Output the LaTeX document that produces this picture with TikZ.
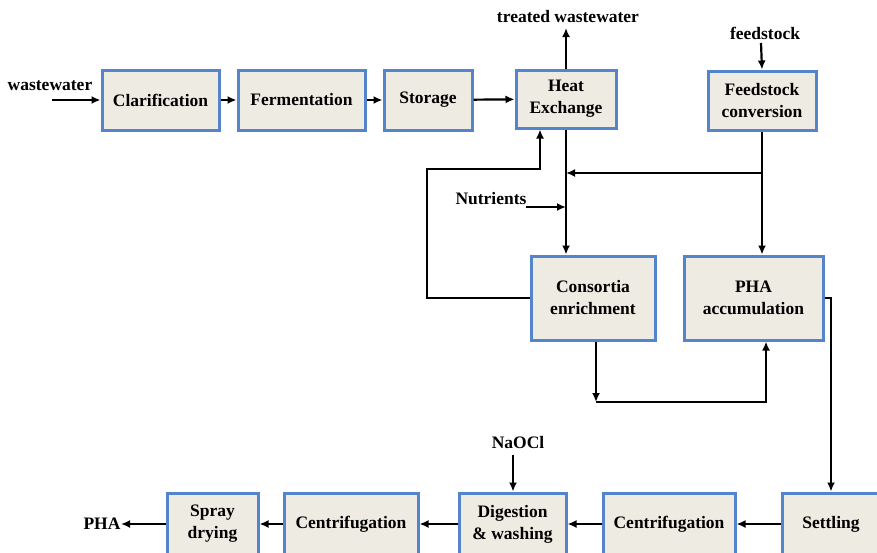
\documentclass[tikz,border=0pt]{standalone}
\usepackage{fontspec}
\setmainfont{Liberation Serif}
\usetikzlibrary{arrows.meta}
\definecolor{boxfill}{RGB}{238,235,226}
\definecolor{boxline}{RGB}{84,132,204}
\begin{document}
\begin{tikzpicture}[x=1pt,y=-1pt,
  font=\fontsize{17.5}{22}\selectfont\bfseries,
  proc/.style={draw=boxline,fill=boxfill,line width=3pt,inner sep=0pt,
    align=center,minimum width=#1},
  lbl/.style={inner sep=0pt},
  flow/.style={line width=2.2pt,-{Latex[length=9pt,width=8pt]}}]
\useasboundingbox (0,0) rectangle (877,552);
\clip (0,0) rectangle (877,552);

% top row
\node[proc=117,minimum height=60] (clar) at (160.5,100) {Clarification};
\node[proc=127,minimum height=60] (ferm) at (301.5,100) {Fermentation};
\node[proc=88,minimum height=60] (stor) at (428,100) {Storage};
\node[proc=100,minimum height=58] (heat) at (566,99) {\raisebox{-2pt}{Heat}\\\raisebox{-2pt}{Exchange}};
\node[proc=108,minimum height=59] (feed) at (762,100.5) {\raisebox{-2pt}{Feedstock}\\\raisebox{-2pt}{conversion}};

% middle row
\node[proc=124,minimum height=84] (cons) at (593,298) {Consortia\\enrichment};
\node[proc=139,minimum height=84] (pha) at (753.5,298) {PHA\\accumulation};

% bottom row
\node[proc=91,minimum height=62] (spray) at (212.5,524) {Spray\\drying};
\node[proc=134,minimum height=62] (centL) at (351,524) {Centrifugation};
\node[proc=107,minimum height=62] (dig) at (512.5,524) {Digestion\\\& washing};
\node[proc=132,minimum height=62] (centR) at (669,524) {Centrifugation};
\node[proc=98,minimum height=62] (settle) at (831,524) {Settling};

% stream labels
\node[lbl] (ww) at (50,86) {wastewater};
\node[lbl] (tww) at (568,17) {treated wastewater};
\node[lbl] (fs) at (765,33) {feedstock};
\node[lbl] (nut) at (491,199) {Nutrients};
\node[lbl] (naocl) at (518,443) {NaOCl};
\node[lbl] (pham) at (102,524) {PHA};

% helper points
\coordinate (wwin) at (52,100);
\coordinate (twwout) at (566,28);
\coordinate (fsin) at (761,43);
\coordinate (nutin) at (526,207);
\coordinate (naoclin) at (513,455);
\coordinate (phaout) at (121,524);
\coordinate (split) at (762,173);
\coordinate (merge) at (566,173);
\coordinate (loopA) at (427,298);
\coordinate (loopB) at (427,169);
\coordinate (loopC) at (540,169);
\coordinate (transA) at (596,402);
\coordinate (transB) at (766,402);
\coordinate (settleA) at (831,298);

% top row flow
\draw[flow] (wwin) -- (clar.west);
\draw[flow] (clar) -- (ferm);
\draw[flow] (ferm) -- (stor);
\draw[flow] (stor) -- (heat);
\draw[flow] (heat.north) -- (twwout);
\draw[flow] (fsin) -- (feed.north);

% feeds to the reactors
\draw[flow] (heat.south) -- (heat.south |- cons.north);
\draw[flow] (feed.south) -- (feed.south |- pha.north);
\draw[flow] (split) -- (merge);
\draw[flow] (nutin) -- (nutin -| merge);

% recycle loop back to heat exchange
\draw[flow] (cons.west |- loopA) -- (loopA) -- (loopB) -- (loopC) -- (loopC |- heat.south);

% enriched culture to PHA accumulation
\draw[flow] (transA |- cons.south) -- (transA);
\draw[flow] (transA) -- (transB) -- (transB |- pha.south);

% downstream processing
\draw[flow] (pha.east |- settleA) -- (settleA) -- (settle.north);
\draw[flow] (settle) -- (centR);
\draw[flow] (centR) -- (dig);
\draw[flow] (dig) -- (centL);
\draw[flow] (centL) -- (spray);
\draw[flow] (spray.west) -- (phaout);
\draw[flow] (naoclin) -- (naoclin |- dig.north);
\end{tikzpicture}
\end{document}
